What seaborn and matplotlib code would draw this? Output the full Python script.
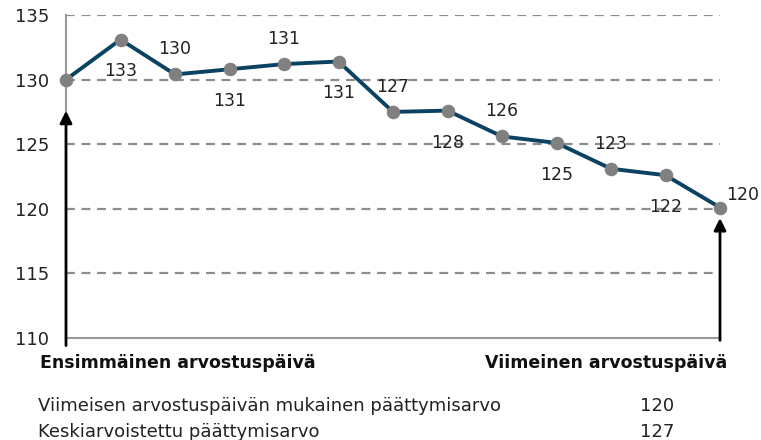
import matplotlib
matplotlib.use("Agg")
import matplotlib.pyplot as plt
import seaborn as sns
import pandas as pd

# ---- data ----
periods = list(range(13))
values = [130.0, 133.1, 130.4, 130.8, 131.2, 131.4, 127.5, 127.6, 125.6, 125.1, 123.1, 122.6, 120.1]
point_labels = ["", "133", "130", "131", "131", "131", "127", "128", "126", "125", "123", "122", "120"]
label_side = ["", "below", "above", "below", "above", "below", "above", "below", "above", "below", "above", "below", "right"]
y_ticks = [110, 115, 120, 125, 130, 135]
first_label = "Ensimmäinen arvostuspäivä"
last_label = "Viimeinen arvostuspäivä"
summary_names = ["Viimeisen arvostuspäivän mukainen päättymisarvo", "Keskiarvoistettu päättymisarvo"]
summary_values = ["120", "127"]

sns.set_theme(style="white")
plt.rcParams['font.family'] = ['DejaVu Sans']

fig = plt.figure(figsize=(7.61, 4.40), dpi=100)
ax = fig.add_axes([66/761, 1-338/440, (720-66)/761, (338-15)/440])

df = pd.DataFrame({"t": periods, "v": values})
sns.lineplot(data=df, x="t", y="v", ax=ax, color="#0b4262", linewidth=2.8,
             marker="o", markersize=9, markerfacecolor="#808080",
             markeredgecolor="#808080", zorder=5, clip_on=False)

ax.set_xlim(0, 12)
ax.set_ylim(110, 135)
ax.set_yticks(y_ticks)
ax.set_yticklabels([str(t) for t in y_ticks], fontsize=13, color="#222222")
ax.set_xticks([])
ax.set_xlabel("")
ax.set_ylabel("")
for t in y_ticks[1:]:
    ax.axhline(t, color="#8c8c8c", linestyle=(0, (4, 3)), linewidth=1.6, zorder=1)
for s in ["top", "right"]:
    ax.spines[s].set_visible(False)
ax.spines["left"].set_color("#999999")
ax.spines["left"].set_linewidth(1.5)
ax.spines["bottom"].set_color("#999999")
ax.spines["bottom"].set_linewidth(1.5)
ax.tick_params(axis="y", length=4, color="#8c8c8c", pad=8)

lab_fs = 12.5
for x, y, lab, side in zip(periods, values, point_labels, label_side):
    if not lab:
        continue
    if side == "above":
        ax.annotate(lab, (x, y), xytext=(0, 18), textcoords="offset points",
                    ha="center", va="center", fontsize=lab_fs, color="#222222")
    elif side == "below":
        ax.annotate(lab, (x, y), xytext=(0, -23), textcoords="offset points",
                    ha="center", va="center", fontsize=lab_fs, color="#222222")
    else:
        ax.annotate(lab, (x, y), xytext=(16, 9), textcoords="offset points",
                    ha="center", va="center", fontsize=lab_fs, color="#222222",
                    annotation_clip=False)

# arrows
ax.annotate("", xy=(0, 127.8), xytext=(0, 109.2),
            arrowprops=dict(arrowstyle="-|>", color="black", lw=2, mutation_scale=18),
            annotation_clip=False, zorder=6)
ax.annotate("", xy=(12, 119.5), xytext=(12, 109.6),
            arrowprops=dict(arrowstyle="-|>", color="black", lw=2, mutation_scale=18),
            annotation_clip=False, zorder=6)

fig.text(40/761, 1-363/440, first_label, fontsize=12.5, fontweight="bold",
         color="#111111", ha="left", va="center")
fig.text(727/761, 1-363/440, last_label, fontsize=12.5, fontweight="bold",
         color="#111111", ha="right", va="center")
fig.text(38/761, 1-406/440, summary_names[0], fontsize=13, color="#222222", ha="left", va="center")
fig.text(38/761, 1-432/440, summary_names[1], fontsize=13, color="#222222", ha="left", va="center")
fig.text(640/761, 1-406/440, summary_values[0], fontsize=13, color="#222222", ha="left", va="center")
fig.text(640/761, 1-432/440, summary_values[1], fontsize=13, color="#222222", ha="left", va="center")

fig.savefig("out.png", dpi=100)
